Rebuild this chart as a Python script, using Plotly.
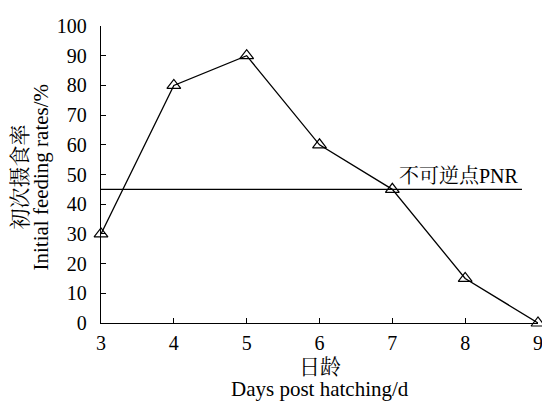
import plotly.graph_objects as go

days = [3, 4, 5, 6, 7, 8, 9]
feeding_rate = [30, 80, 90, 60, 45, 15, 0]
pnr_level = 45
pnr_x = [3, 8.78]
pnr_label = "不可逆点PNR"
x_ticks = [3, 4, 5, 6, 7, 8, 9]
y_ticks = [0, 10, 20, 30, 40, 50, 60, 70, 80, 90, 100]
y_title = ["初次摄食率", "Initial feeding rates/%"]
x_title = ["日龄", "Days post hatching/d"]

FONT = "Liberation Serif, Noto Serif CJK SC, Noto Sans CJK SC, serif"

fig = go.Figure()
fig.add_trace(go.Scatter(
    x=pnr_x, y=[pnr_level, pnr_level], mode="lines",
    line=dict(color="black", width=1.3), hoverinfo="skip", showlegend=False,
))
fig.add_trace(go.Scatter(
    x=days, y=feeding_rate, mode="lines+markers",
    line=dict(color="black", width=1.3),
    marker=dict(symbol="triangle-up-open", size=12, color="black", line=dict(width=1.2)),
    cliponaxis=False, showlegend=False,
))

fig.add_annotation(x=7.07, y=pnr_level, xref="x", yref="y", text=pnr_label,
                   showarrow=False, xanchor="left", yanchor="bottom", yshift=0,
                   font=dict(family=FONT, size=20, color="black"))

for txt, xs in zip(y_title, [-82, -61]):
    fig.add_annotation(x=0, y=0.5, xref="paper", yref="paper", text=txt, textangle=-90,
                       showarrow=False, xanchor="center", yanchor="middle", xshift=xs, yshift=-3,
                       font=dict(family=FONT, size=21, color="black"))
for txt, ys in zip(x_title, [-44, -66]):
    fig.add_annotation(x=0.5, y=0, xref="paper", yref="paper", text=txt,
                       showarrow=False, xanchor="center", yanchor="middle", yshift=ys,
                       font=dict(family=FONT, size=21, color="black"))

fig.update_xaxes(range=[3, 9], tickvals=x_ticks, ticks="inside", ticklen=5,
                 tickcolor="black", showline=True, linecolor="black", linewidth=1.3,
                 showgrid=False, zeroline=False, ticklabelstandoff=2,
                 tickfont=dict(family=FONT, size=20, color="black"))
fig.update_yaxes(range=[0, 100], tickvals=y_ticks, ticks="inside", ticklen=5,
                 tickcolor="black", showline=True, linecolor="black", linewidth=1.3,
                 showgrid=False, zeroline=False, ticklabelstandoff=9,
                 tickfont=dict(family=FONT, size=20, color="black"))

fig.update_layout(width=542, height=397, margin=dict(l=93, r=7, t=12, b=82),
                  plot_bgcolor="white", paper_bgcolor="white",
                  font=dict(family=FONT, color="black"))

fig.write_html("out.html")
